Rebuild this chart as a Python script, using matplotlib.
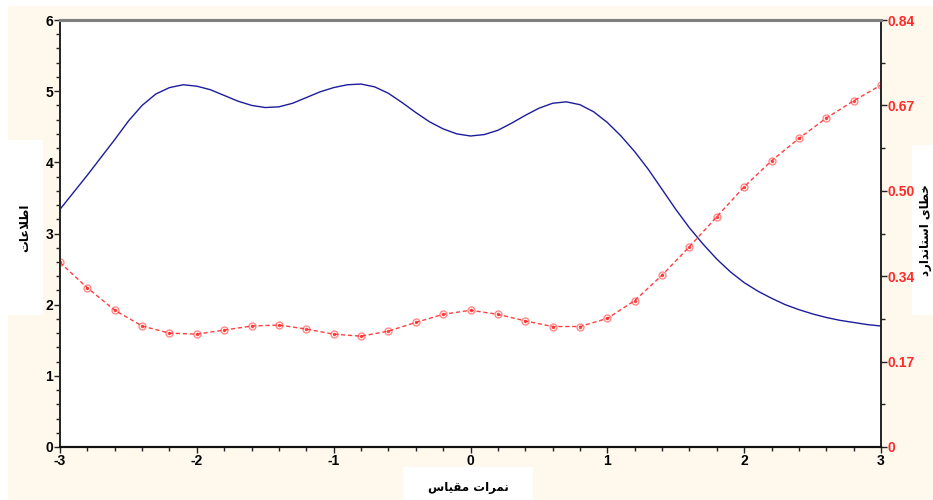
import matplotlib
matplotlib.use('Agg')
import matplotlib.pyplot as plt
from matplotlib.patches import Rectangle
from matplotlib.ticker import MultipleLocator, FixedLocator

plt.rcParams['axes.unicode_minus'] = False

# test information curve (step 0.1)
theta_info = [-3.0, -2.9, -2.8, -2.7, -2.6, -2.5, -2.4, -2.3, -2.2, -2.1,
              -2.0, -1.9, -1.8, -1.7, -1.6, -1.5, -1.4, -1.3, -1.2, -1.1,
              -1.0, -0.9, -0.8, -0.7, -0.6, -0.5, -0.4, -0.3, -0.2, -0.1,
              0.0, 0.1, 0.2, 0.3, 0.4, 0.5, 0.6, 0.7, 0.8, 0.9,
              1.0, 1.1, 1.2, 1.3, 1.4, 1.5, 1.6, 1.7, 1.8, 1.9,
              2.0, 2.1, 2.2, 2.3, 2.4, 2.5, 2.6, 2.7, 2.8, 2.9, 3.0]
info = [3.34, 3.58, 3.82, 4.07, 4.32, 4.58, 4.80, 4.96, 5.05, 5.09,
        5.07, 5.02, 4.94, 4.86, 4.80, 4.77, 4.78, 4.83, 4.91, 4.99,
        5.05, 5.09, 5.10, 5.06, 4.97, 4.84, 4.70, 4.57, 4.47, 4.40,
        4.37, 4.39, 4.45, 4.55, 4.66, 4.76, 4.83, 4.85, 4.81, 4.71,
        4.56, 4.37, 4.15, 3.90, 3.62, 3.34, 3.08, 2.85, 2.64, 2.46,
        2.31, 2.19, 2.09, 2.00, 1.93, 1.87, 1.82, 1.78, 1.75, 1.72, 1.70]

# standard error points (step 0.2)
theta_se = [-3.0, -2.8, -2.6, -2.4, -2.2, -2.0, -1.8, -1.6, -1.4, -1.2,
            -1.0, -0.8, -0.6, -0.4, -0.2, 0.0, 0.2, 0.4, 0.6, 0.8,
            1.0, 1.2, 1.4, 1.6, 1.8, 2.0, 2.2, 2.4, 2.6, 2.8, 3.0]
se = [0.363, 0.313, 0.269, 0.238, 0.224, 0.222, 0.230, 0.238, 0.240, 0.232,
      0.222, 0.218, 0.228, 0.245, 0.261, 0.269, 0.261, 0.248, 0.237, 0.237,
      0.253, 0.288, 0.338, 0.394, 0.453, 0.512, 0.563, 0.607, 0.647, 0.681, 0.712]

x_ticks = [-3, -2, -1, 0, 1, 2, 3]
left_ticks = [0, 1, 2, 3, 4, 5, 6]
right_ticks = [0, 0.168, 0.336, 0.504, 0.672, 0.84]
right_labels = ['0', '0.17', '0.34', '0.50', '0.67', '0.84']

# Persian labels, pre-shaped (presentation forms, visual order)
xlabel = '\ufeb1\ufe8e\ufef4\ufed8\ufee3 \ufe95\ufe8d\ufeae\ufee4\ufee7'    # نمرات مقیاس
ylabel_left = '\ufe95\ufe8e\ufecb\ufefc\ufec3\ufe8d'                      # اطلاعات
ylabel_right = ('\ufea9\ufead\ufe8d\ufeaa\ufee7\ufe8e\ufe98\ufeb3\ufe8d '
                '\ufeef\ufe8e\ufec4\ufea7')                                # خطای استاندارد

BLUE = '#1c1c9c'
RED = '#ff2a2a'
CREAM = '#fef9ec'

W, H = 933, 500
fig = plt.figure(figsize=(9.33, 5.0), dpi=100)
fig.patch.set_facecolor('white')
fig.patches.append(Rectangle((8 / W, 0), 1 - 8 / W, 494 / H, transform=fig.transFigure,
                             facecolor=CREAM, edgecolor='none', zorder=0))
for (x0, y0, x1, y1) in [(8, 140, 43, 315), (912, 145, 933, 315), (403, 467, 533, 500)]:
    fig.patches.append(Rectangle((x0 / W, 1 - y1 / H), (x1 - x0) / W, (y1 - y0) / H,
                                 transform=fig.transFigure, facecolor='white',
                                 edgecolor='none', zorder=1))

ax = fig.add_axes([60 / W, 53 / H, 821 / W, 427 / H])
ax2 = ax.twinx()
ax.set_zorder(5)
ax2.set_zorder(6)
ax.set_facecolor('white')
ax2.patch.set_visible(False)

ax.plot(theta_info, info, color=BLUE, linewidth=1.0, zorder=3, solid_joinstyle='round')
ax2.plot(theta_se, se, color=RED, linewidth=1.0, linestyle=(0, (3, 2)), alpha=0.9)
ax2.plot(theta_se, se, linestyle='none', marker='o', markersize=5,
         markerfacecolor='none', markeredgecolor=RED, markeredgewidth=1.0, alpha=0.55)
ax2.plot(theta_se, se, linestyle='none', marker='o', markersize=1.5,
         markerfacecolor=RED, markeredgecolor=RED, alpha=0.8)

ax.set_xlim(-3, 3)
ax.set_ylim(0, 6)
ax2.set_ylim(0, 0.84)

ax.xaxis.set_major_locator(FixedLocator(x_ticks))
ax.xaxis.set_minor_locator(MultipleLocator(0.2))
ax.yaxis.set_major_locator(FixedLocator(left_ticks))
ax.yaxis.set_minor_locator(MultipleLocator(0.2))
ax2.yaxis.set_major_locator(FixedLocator(right_ticks))
ax2.set_yticklabels(right_labels)
ax2.yaxis.set_minor_locator(MultipleLocator(0.084))

tick_font = dict(family=['Liberation Sans Narrow', 'Liberation Sans', 'DejaVu Sans'],
                 weight='bold', size=10)
for lab in ax.get_xticklabels() + ax.get_yticklabels():
    lab.set_fontproperties(matplotlib.font_manager.FontProperties(**tick_font))
for lab in ax2.get_yticklabels():
    lab.set_fontproperties(matplotlib.font_manager.FontProperties(**tick_font))
    lab.set_color(RED)

ax.tick_params(axis='both', which='major', length=4, width=1, color='#222222', pad=1)
ax.tick_params(axis='both', which='minor', length=3, width=1, color='#222222')
ax2.tick_params(axis='y', which='major', length=4, width=1, color='#222222', pad=1)
ax2.tick_params(axis='y', which='minor', length=3, width=1, color='#222222')

for a in (ax, ax2):
    a.spines['top'].set_color('#808080')
    a.spines['top'].set_linewidth(2.2)
    a.spines['left'].set_color('#222222')
    a.spines['bottom'].set_color('#111111')
    a.spines['right'].set_color('#222222')
    a.spines['bottom'].set_linewidth(1.5)
    a.spines['left'].set_linewidth(1.2)
    a.spines['right'].set_linewidth(1.2)

label_font = dict(family='DejaVu Sans', weight='bold', size=8.5)
fig.text(468 / W, 1 - 488 / H, xlabel, ha='center', va='center', **label_font, zorder=10)
fig.text(25 / W, 1 - 228 / H, ylabel_left, ha='center', va='center', rotation=90,
         **label_font, zorder=10)
fig.text(926 / W, 1 - 230 / H, ylabel_right, ha='center', va='center', rotation=90,
         **label_font, zorder=10)

fig.savefig('out.png', dpi=100, facecolor=fig.get_facecolor())
